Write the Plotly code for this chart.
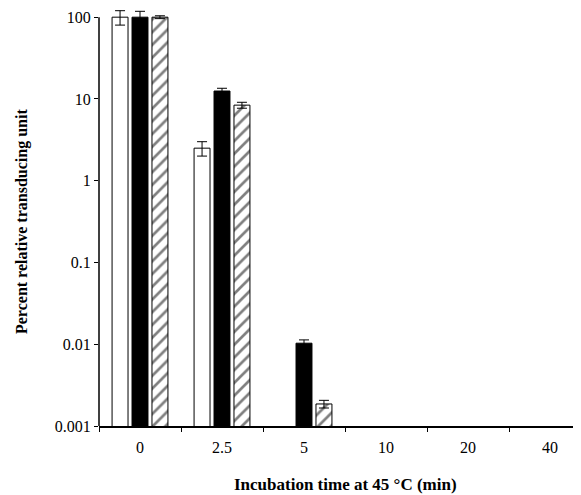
import plotly.graph_objects as go

categories = ["0", "2.5", "5", "10", "20", "40"]
open_vals = [100, 2.5, None, None, None, None]
open_err = [20, 0.5, None, None, None, None]
black_vals = [100, 12.5, 0.0103, None, None, None]
black_err = [18, 1.0, 0.001, None, None, None]
hatch_vals = [100, 8.4, 0.00186, None, None, None]
hatch_err = [4, 0.7, 0.0002, None, None, None]
y_ticks = [0.001, 0.01, 0.1, 1, 10, 100]
y_ticktext = ["0.001", "0.01", "0.1", "1", "10", "100"]

FONT = "Liberation Serif"
Y_LOG_RANGE = [-3, 2.1]

fig = go.Figure()

def add(vals, errs, color, pattern=False):
    marker = dict(color=color, line=dict(color="black", width=1))
    if pattern:
        marker["pattern"] = dict(shape="/", fgcolor="black", bgcolor="white",
                                 size=9, solidity=0.3)
    fig.add_trace(go.Bar(
        x=categories, y=vals, marker=marker, cliponaxis=False,
        error_y=dict(type="data", array=errs, visible=True,
                     color="black", thickness=1, width=5),
        showlegend=False))

add(open_vals, open_err, "white")
add(black_vals, black_err, "black")
add(hatch_vals, hatch_err, "white", pattern=True)

fig.update_layout(
    width=573, height=487,
    margin=dict(l=91, r=0, t=1, b=69),
    plot_bgcolor="white", paper_bgcolor="white",
    barmode="group", bargap=0.27, bargroupgap=0.2,
    font=dict(family=FONT, color="black", size=16),
    xaxis=dict(
        type="category", range=[-0.5, 5.378],
        showline=True, linecolor="black", linewidth=1.5,
        ticks="outside", tickson="boundaries", ticklen=4, tickcolor="black",
        ticklabelstandoff=6,
        showgrid=False, zeroline=False,
        tickfont=dict(family=FONT, size=16),
    ),
    yaxis=dict(
        type="log", range=Y_LOG_RANGE,
        tickvals=y_ticks, ticktext=y_ticktext,
        showline=False,
        ticks="outside", ticklen=4, tickcolor="black",
        showgrid=False, zeroline=False,
        tickfont=dict(family=FONT, size=16),
    ),
)

# y axis line only from 0.001 up to 100
top_frac = (2 - Y_LOG_RANGE[0]) / (Y_LOG_RANGE[1] - Y_LOG_RANGE[0])
fig.add_shape(type="line", xref="paper", yref="paper", x0=0, x1=0,
              y0=0, y1=top_frac, line=dict(color="black", width=1.5))

plot_h = 487 - 1 - 69
fig.add_annotation(
    text="<b>Incubation time at 45 °C (min)</b>",
    xref="paper", yref="paper", x=(337 - 91) / 482, y=-(476 - 418) / plot_h,
    xanchor="center", yanchor="middle", showarrow=False,
    font=dict(family=FONT, size=17))

fig.add_annotation(
    text="<b>Percent relative transducing unit</b>",
    xref="paper", yref="paper", x=(14 - 91) / 482,
    y=1 - (214 - 1) / plot_h,
    xanchor="center", yanchor="middle", textangle=-90, showarrow=False,
    font=dict(family=FONT, size=16))

fig.write_html("out.html")
